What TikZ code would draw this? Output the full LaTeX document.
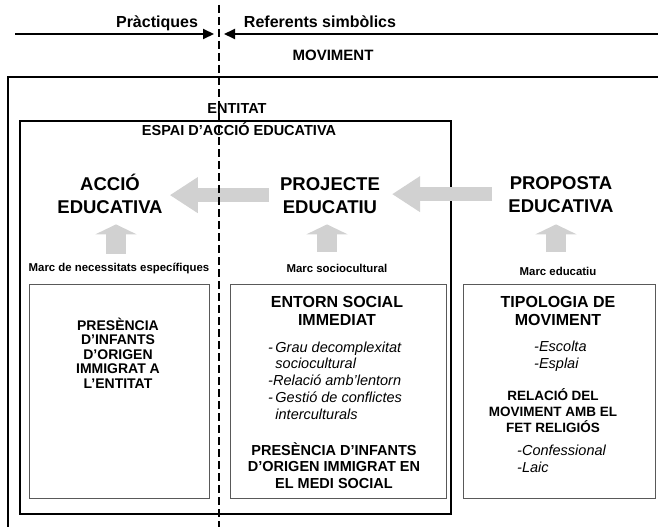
\documentclass[tikz,border=0pt]{standalone}
\usepackage{fontspec}
\setmainfont{Liberation Sans}
\usetikzlibrary{arrows.meta}
\begin{document}
\begin{tikzpicture}[x=1pt,y=-1pt,
  toplabel/.style={font=\fontsize{16}{19}\selectfont\bfseries,inner sep=0pt,anchor=base},
  framelabel/.style={font=\fontsize{14.5}{17}\selectfont\bfseries,inner sep=0pt,anchor=base},
  title/.style={font=\fontsize{18.5}{23}\selectfont\bfseries,align=center,inner sep=0pt,anchor=base},
  marc/.style={font=\fontsize{11.4}{13}\selectfont\bfseries,inner sep=0pt,anchor=base},
  panel/.style={draw=black!65,line width=1pt,minimum height=214pt,inner sep=0pt},
  boxhead/.style={font=\fontsize{14}{14.5}\selectfont\bfseries,align=center,inner sep=0pt,anchor=base},
  boxtitle/.style={font=\fontsize{16}{18}\selectfont\bfseries,align=center,inner sep=0pt,anchor=base},
  boxsub/.style={font=\fontsize{14}{16.5}\selectfont\bfseries,align=center,inner sep=0pt,anchor=base},
  items/.style={font=\fontsize{14.5}{16.7}\selectfont\itshape,align=left,inner sep=0pt,anchor=base west},
  rule/.style={line width=2pt,-{Triangle[length=11pt 0 0,width=10pt 0 0]}},
  flow/.style={draw=black!18,line width=14pt,-{Triangle[length=28pt 0 0,width=34pt 0 0]}},
  lift/.style={draw=black!18,line width=20pt,-{Triangle[length=10pt 0 0,width=41pt 0 0]}}]
\useasboundingbox (0,0) rectangle (658,527);

% top line
\node[toplabel] (practiques) at (157,28) {Pràctiques};
\node[toplabel] (referents) at (320,28) {Referents simbòlics};
\coordinate (lstart) at (15,34);
\coordinate (ltip) at (214,34);
\coordinate (rstart) at (658,34);
\coordinate (rtip) at (224,34);
\draw[rule] (lstart) -- (ltip);
\draw[rule] (rstart) -- (rtip);
\node[framelabel,font=\fontsize{15}{17}\selectfont\bfseries] (moviment) at (333,60) {MOVIMENT};

% frames
\draw[line width=1.6pt] (658,77) -| (8,527);
\node[framelabel] (entitat) at (237,113) {ENTITAT};
\node[draw,line width=1.4pt,minimum width=431pt,minimum height=393pt,inner sep=0pt] (espai) at (235.5,317.5) {};
\node[framelabel] (espaititle) at (239,135) {ESPAI D’ACCIÓ EDUCATIVA};

% titles (base = last line)
\node[title] (accio) at (110,213) {ACCIÓ\\EDUCATIVA};
\node[title] (projecte) at (330,213) {PROJECTE\\EDUCATIU};
\node[title] (proposta) at (561,212) {PROPOSTA\\EDUCATIVA};
\draw[flow,shorten <=11pt,shorten >=7pt] (projecte.west) -- (projecte.west -| accio.east);
\draw[flow,shorten <=16pt,shorten >=12pt] (proposta.west) -- (proposta.west -| projecte.east);

% marcs
\node[marc] (necess) at (119,271) {Marc de necessitats específiques};
\node[marc] (socio) at (337,272) {Marc sociocultural};
\node[marc] (educ) at (558,275) {Marc educatiu};
\draw[lift,shorten <=8.5pt,shorten >=11pt] ([xshift=-3pt]necess.north) -- ([xshift=-3pt]necess.north |- accio.south);
\draw[lift,shorten <=11.7pt,shorten >=11pt] ([xshift=-10pt]socio.north) -- ([xshift=-10pt]socio.north |- projecte.south);
\draw[lift,shorten <=14.5pt,shorten >=12pt] ([xshift=-2pt]educ.north) -- ([xshift=-2pt]educ.north |- proposta.south);

% panels
\node[panel,minimum width=180pt] (leftbox) at (119,391.5) {};
\node[panel,minimum width=216pt] (midbox) at (338,391.5) {};
\node[panel,minimum width=192pt] (rightbox) at (559,391.5) {};

\node[boxhead] (presencia) at (118,388) {PRESÈNCIA\\D’INFANTS\\D’ORIGEN\\IMMIGRAT A\\L’ENTITAT};

\node[boxtitle] (entorn) at (337,325) {ENTORN SOCIAL\\IMMEDIAT};
\node[items] (factors) at (268,419) {-\,Grau decomplexitat\\\hphantom{-\,}sociocultural\\-Relació amb’lentorn\\-\,Gestió de conflictes\\\hphantom{-\,}interculturals};
\node[boxsub,font=\fontsize{14.5}{16.5}\selectfont\bfseries] (infants) at (334,488) {PRESÈNCIA D’INFANTS\\D’ORIGEN IMMIGRAT EN\\EL MEDI SOCIAL};

\node[boxtitle] (tipologia) at (558,325) {TIPOLOGIA DE\\MOVIMENT};
\node[items] (tipus) at (534,368) {-Escolta\\-Esplai};
\node[boxsub,font=\fontsize{13.5}{16}\selectfont\bfseries] (religio) at (553,432) {RELACIÓ DEL\\MOVIMENT AMB EL\\FET RELIGIÓS};
\node[items] (opcions) at (517,472) {-Confessional\\-Laic};

% practice / symbolic divide
\coordinate (dtop) at (219,5);
\coordinate (dbot) at (219,527);
\draw[line width=1.8pt,dash pattern=on 8pt off 4pt] (dtop) -- (dbot);
\end{tikzpicture}
\end{document}
